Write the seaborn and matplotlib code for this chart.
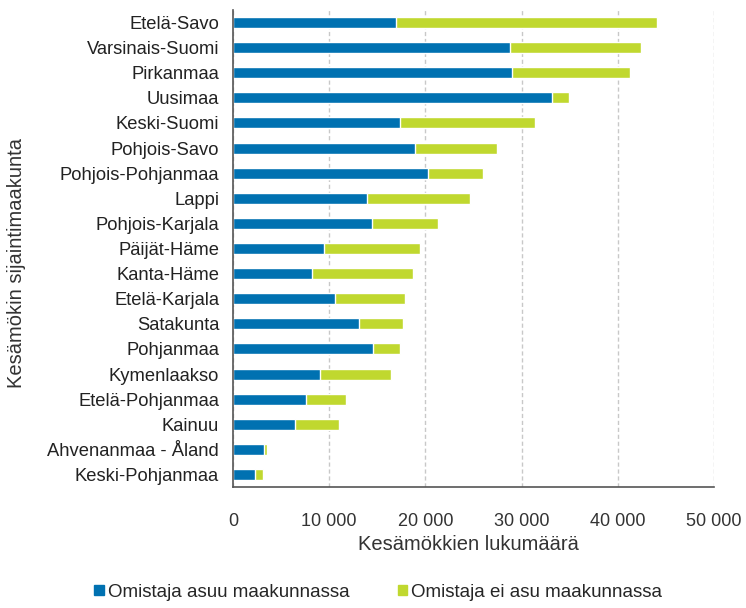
import matplotlib
matplotlib.use("Agg")
import matplotlib.pyplot as plt
import matplotlib.ticker as mticker
from matplotlib.patches import Patch
import seaborn as sns
import pandas as pd

# Kesämökit maakunnittain
regions = ["Etelä-Savo", "Varsinais-Suomi", "Pirkanmaa", "Uusimaa", "Keski-Suomi",
           "Pohjois-Savo", "Pohjois-Pohjanmaa", "Lappi", "Pohjois-Karjala", "Päijät-Häme",
           "Kanta-Häme", "Etelä-Karjala", "Satakunta", "Pohjanmaa", "Kymenlaakso",
           "Etelä-Pohjanmaa", "Kainuu", "Ahvenanmaa - Åland", "Keski-Pohjanmaa"]
owner_local = [16930, 28750, 28960, 33120, 17410, 18900, 20260, 13940, 14430, 9440,
               8250, 10580, 13080, 14570, 9090, 7600, 6420, 3260, 2260]
owner_elsewhere = [27160, 13710, 12280, 1810, 14020, 8540, 5680, 10650, 6830, 9950,
                   10510, 7350, 4540, 2840, 7350, 4160, 4640, 310, 830]
xticks = [0, 10000, 20000, 30000, 40000, 50000]

BLUE = "#0071B1"
GREEN = "#C0D82F"

df = pd.DataFrame({"maakunta": regions, "asuu": owner_local, "ei_asu": owner_elsewhere})
df["yht"] = df["asuu"] + df["ei_asu"]

sns.set_theme(style="white")
plt.rcParams["font.family"] = ["Liberation Sans", "DejaVu Sans"]

fig = plt.figure(figsize=(7.46, 6.08), dpi=100)
ax = fig.add_axes([233 / 746, 121 / 608, 481 / 746, 477 / 608])

# green = total, blue drawn over it
sns.barplot(data=df, x="yht", y="maakunta", color=GREEN, width=0.44, saturation=1, ax=ax)
sns.barplot(data=df, x="asuu", y="maakunta", color=BLUE, width=0.44, saturation=1, ax=ax)

ax.set_xlim(0, 50000)
ax.set_ylim(len(regions) - 0.5, -0.5)
ax.set_xticks(xticks)
ax.xaxis.set_major_formatter(mticker.FuncFormatter(lambda v, p: f"{int(v):,}".replace(",", " ")))
ax.grid(axis="x", linestyle=(0, (3, 2)), color="#C8C8C8", linewidth=1)
ax.set_axisbelow(True)

for s in ["top", "right"]:
    ax.spines[s].set_visible(False)
for s in ["left", "bottom"]:
    ax.spines[s].set_color("#555555")
    ax.spines[s].set_linewidth(1.2)

ax.tick_params(axis="x", length=0, pad=19, labelsize=13, labelcolor="#333333")
ax.tick_params(axis="y", length=0, pad=10, labelsize=13.2, labelcolor="#222222")

ax.set_xlabel("Kesämökkien lukumäärä", fontsize=14.5, color="#333333")
ax.xaxis.set_label_coords(0.49, -0.1)
ax.set_ylabel("Kesämökin sijaintimaakunta", fontsize=14.5, color="#333333")
ax.yaxis.set_label_coords(-(233 - 26) / 481, 0.47)

handles = [Patch(color=BLUE, label="Omistaja asuu maakunnassa"),
           Patch(color=GREEN, label="Omistaja ei asu maakunnassa")]
fig.legend(handles=handles, loc="center", bbox_to_anchor=(0.507, 0.026), ncol=2,
           frameon=False, fontsize=13.5, handlelength=0.5, handleheight=0.5,
           handletextpad=0.2, columnspacing=2.6)

fig.savefig("out.png", dpi=100)
